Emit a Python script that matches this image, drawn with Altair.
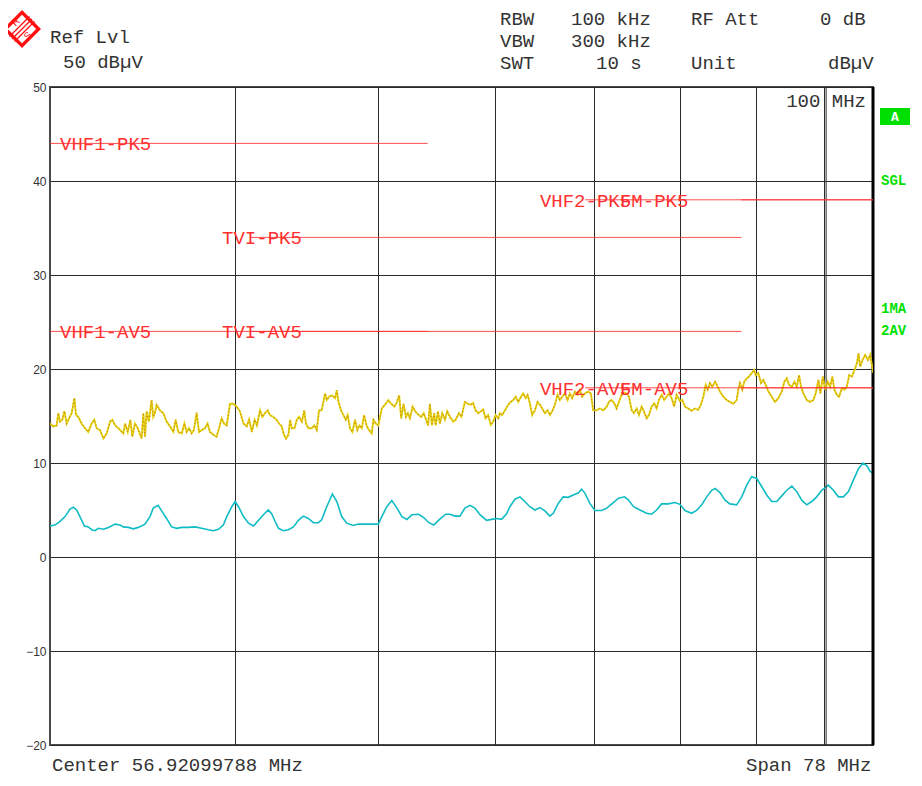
import altair as alt
import pandas as pd

# ---------------- data ----------------
grid_freqs = [40, 50, 60, 70, 80, 90, 100]
level_ticks = [-20, -10, 0, 10, 20, 30, 40, 50]

avg_freq = [30.00, 30.23, 30.47, 30.71, 30.95, 31.11, 31.27, 31.43, 31.65, 31.84, 32.01, 32.18, 32.34, 32.60,
            32.86, 33.20, 33.45, 33.63, 33.89, 34.16, 34.42, 34.78, 35.05, 35.23, 35.50, 35.69, 35.97, 36.25,
            36.54, 36.83, 37.20, 37.59, 37.99, 38.38, 38.68, 38.99, 39.29, 39.50, 39.81, 40.02, 40.23, 40.54,
            40.86, 41.18, 41.60, 41.88, 42.14, 42.36, 42.58, 42.81, 43.14, 43.48, 43.82, 44.16, 44.50, 44.85,
            45.20, 45.55, 45.79, 46.15, 46.56, 46.88, 47.24, 47.61, 48.10, 48.48, 48.98, 49.50, 50.01, 50.28,
            50.67, 51.07, 51.48, 51.88, 52.29, 52.70, 53.25, 53.67, 54.10, 54.52, 54.96, 55.54, 55.91, 56.34,
            56.78, 57.22, 57.67, 58.12, 58.58, 59.19, 59.65, 60.12, 60.59, 61.06, 61.37, 61.86, 62.34, 62.82,
            63.31, 63.81, 64.31, 64.81, 65.32, 65.66, 66.17, 66.69, 67.21, 67.73, 68.26, 68.62, 68.97, 69.51,
            70.05, 70.80, 71.36, 71.93, 72.68, 73.36, 73.82, 74.40, 75.14, 75.93, 76.52, 77.12, 77.72, 78.53,
            79.35, 79.97, 80.60, 81.43, 82.07, 82.72, 83.37, 84.03, 84.47, 85.11, 85.78, 86.44, 87.35, 88.04,
            88.73, 89.42, 90.12, 90.82, 91.53, 92.25, 92.98, 93.70, 94.44, 95.18, 95.92, 96.66, 97.42, 98.17,
            98.94, 99.72, 100.75, 101.54, 102.34, 103.14, 103.95, 104.77, 105.59, 106.32, 106.99, 107.52, 108.00]
avg_level = [3.3, 3.4, 3.8, 4.3, 5.1, 5.3, 5.0, 4.3, 3.3, 3.2, 2.9, 2.8, 3.05, 2.95,
             3.15, 3.5, 3.4, 3.2, 3.15, 3.0, 3.15, 3.5, 4.3, 5.2, 5.5, 4.9, 4.1, 3.2,
             3.05, 3.15, 3.15, 3.2, 3.05, 2.9, 2.8, 2.95, 3.4, 4.3, 5.35, 5.9, 5.35, 4.3,
             3.6, 3.3, 4.1, 4.6, 5.0, 4.6, 3.8, 3.05, 2.8, 2.9, 3.2, 3.9, 4.35, 4.1,
             3.65, 3.65, 3.95, 5.35, 6.7, 5.9, 4.3, 3.6, 3.35, 3.5, 3.5, 3.5, 3.5, 4.3,
             5.35, 6.0, 5.2, 4.3, 4.0, 4.5, 4.55, 4.2, 3.65, 3.4, 3.95, 4.55, 4.55, 4.35,
             4.35, 5.2, 5.5, 5.2, 4.5, 3.9, 4.0, 4.1, 4.0, 4.6, 5.35, 6.15, 6.4, 5.9,
             5.35, 5.0, 5.25, 4.9, 4.35, 4.65, 5.7, 6.4, 6.35, 6.6, 6.8, 7.2, 6.8, 5.7,
             4.95, 4.95, 5.2, 5.65, 6.25, 6.4, 6.05, 5.35, 5.0, 4.65, 4.55, 5.0, 5.65, 5.65,
             5.8, 5.6, 4.95, 4.65, 4.95, 5.55, 6.4, 7.1, 7.3, 6.85, 6.05, 5.65, 5.55, 6.4,
             7.65, 8.55, 8.35, 7.5, 6.6, 5.9, 5.9, 6.5, 7.1, 7.55, 6.95, 6.05, 5.55, 5.9,
             6.4, 7.1, 7.65, 7.1, 6.4, 6.4, 6.95, 8.2, 9.4, 10.0, 9.7, 9.1, 8.9]

pk_freq = [30.00, 30.16, 30.31, 30.39, 30.47, 30.58, 30.68, 30.79, 30.90, 31.03, 31.16, 31.24, 31.35, 31.51,
           31.68, 31.84, 32.01, 32.14, 32.26, 32.43, 32.60, 32.77, 32.94, 33.06, 33.20, 33.37, 33.63, 33.72,
           33.86, 34.00, 34.10, 34.24, 34.39, 34.60, 34.69, 34.78, 34.87, 34.99, 35.14, 35.23, 35.32, 35.41,
           35.60, 35.78, 35.97, 36.16, 36.35, 36.48, 36.63, 36.83, 36.98, 37.11, 37.25, 37.40, 37.53, 37.69,
           37.83, 37.99, 38.18, 38.34, 38.48, 38.68, 38.88, 39.03, 39.19, 39.33, 39.50, 39.70, 39.90, 40.11,
           40.32, 40.54, 40.75, 40.90, 41.07, 41.25, 41.40, 41.51, 41.60, 41.75, 41.92, 42.10, 42.25, 42.47,
           42.69, 42.85, 43.02, 43.18, 43.32, 43.48, 43.59, 43.71, 43.89, 44.05, 44.21, 44.40, 44.56, 44.68,
           44.85, 45.09, 45.27, 45.44, 45.60, 45.79, 46.03, 46.15, 46.32, 46.51, 46.75, 46.88, 47.00, 47.19,
           47.36, 47.54, 47.68, 47.85, 48.03, 48.23, 48.40, 48.56, 48.74, 48.91, 49.12, 49.30, 49.50, 49.63,
           49.81, 50.01, 50.28, 50.54, 50.80, 51.02, 51.28, 51.48, 51.66, 51.82, 52.01, 52.21, 52.37, 52.53,
           52.75, 52.97, 53.25, 53.47, 53.67, 53.87, 54.04, 54.19, 54.36, 54.55, 54.68, 54.87, 55.04, 55.24,
           55.47, 55.67, 55.91, 56.19, 56.40, 56.69, 56.92, 57.22, 57.51, 57.76, 57.96, 58.18, 58.42, 58.67,
           58.88, 59.09, 59.33, 59.58, 59.80, 60.02, 60.27, 60.43, 60.65, 60.90, 61.22, 61.44, 61.70, 61.93,
           62.18, 62.44, 62.66, 62.90, 63.09, 63.31, 63.54, 63.81, 64.07, 64.31, 64.54, 64.81, 65.08, 65.32,
           65.55, 65.83, 66.10, 66.34, 66.58, 66.86, 67.14, 67.38, 67.62, 67.91, 68.19, 68.44, 68.68, 68.97,
           69.33, 69.62, 69.87, 70.24, 70.60, 70.97, 71.36, 71.60, 71.90, 72.20, 72.46, 72.73, 73.03, 73.33,
           73.61, 73.87, 74.19, 74.45, 74.76, 75.03, 75.34, 75.61, 75.93, 76.20, 76.52, 76.83, 77.12, 77.39,
           77.72, 78.03, 78.32, 78.61, 78.94, 79.26, 79.55, 79.97, 80.26, 80.60, 81.01, 81.43, 81.86, 82.28,
           82.63, 82.93, 83.24, 83.50, 83.79, 84.09, 84.47, 84.82, 85.11, 85.55, 86.00, 86.44, 86.89, 87.35,
           87.57, 87.80, 88.12, 88.39, 88.73, 89.04, 89.42, 89.74, 89.98, 90.35, 90.73, 91.06, 91.40, 91.77,
           92.25, 92.73, 93.21, 93.70, 94.09, 94.44, 94.78, 95.18, 95.57, 95.92, 96.26, 96.56, 96.91, 97.42,
           97.92, 98.43, 98.79, 99.20, 99.51, 99.88, 100.24, 100.66, 101.02, 101.38, 101.70, 102.08, 102.45,
           102.88, 103.30, 103.69, 104.07, 104.51, 104.94, 105.33, 105.59, 105.86, 106.25, 106.70, 107.15,
           107.52, 107.91, 108.00]
pk_level = [14.2, 13.9, 14.0, 15.3, 14.4, 14.6, 15.5, 14.2, 14.75, 15.3, 16.9, 15.1, 14.9, 14.2,
            13.7, 13.3, 14.2, 14.6, 13.7, 13.5, 12.6, 13.15, 14.4, 14.6, 14.0, 13.7, 13.15, 14.2,
            13.3, 14.6, 12.8, 14.2, 13.7, 12.6, 15.3, 12.8, 15.5, 14.4, 16.7, 14.9, 15.3, 16.2,
            15.6, 15.3, 14.4, 13.9, 13.3, 14.6, 13.3, 13.15, 14.2, 13.3, 13.7, 13.15, 13.5, 15.35,
            13.3, 13.5, 13.7, 14.2, 13.3, 13.0, 12.8, 13.7, 14.75, 14.2, 14.0, 16.3, 16.3, 16.0,
            15.5, 14.2, 13.9, 14.65, 13.3, 14.6, 14.0, 14.9, 15.6, 14.9, 15.3, 15.6, 15.1, 14.9,
            14.6, 14.2, 13.9, 13.0, 12.6, 13.0, 14.6, 13.7, 13.7, 14.6, 14.9, 14.4, 15.6, 14.2,
            13.7, 13.7, 14.0, 13.5, 15.6, 15.6, 17.4, 16.7, 17.05, 17.2, 16.9, 17.75, 16.5, 15.6,
            15.1, 14.6, 15.1, 13.7, 13.3, 14.6, 13.5, 14.0, 13.7, 15.1, 13.9, 13.5, 13.15, 14.6,
            14.2, 14.0, 15.8, 16.2, 16.7, 16.3, 16.0, 16.5, 17.2, 14.75, 16.3, 14.9, 15.3, 14.75,
            16.0, 15.5, 15.1, 14.9, 15.3, 14.6, 14.0, 16.3, 14.0, 15.3, 14.0, 15.5, 14.2, 15.3,
            14.6, 15.5, 14.9, 14.4, 14.6, 15.3, 14.9, 16.5, 16.3, 16.2, 16.4, 15.6, 15.3, 15.5,
            15.7, 14.75, 15.1, 14.05, 14.4, 15.1, 14.75, 15.3, 15.1, 15.6, 16.2, 16.5, 16.7, 17.05,
            16.5, 17.05, 17.4, 16.9, 17.25, 16.35, 15.1, 15.6, 16.5, 16.2, 15.8, 15.3, 15.6, 15.1,
            15.5, 16.2, 17.25, 16.7, 17.05, 17.4, 16.7, 17.4, 16.9, 17.6, 17.25, 17.8, 17.05, 17.4,
            17.6, 17.4, 15.6, 15.6, 15.8, 15.6, 16.0, 16.5, 16.7, 16.35, 15.8, 16.5, 17.25, 17.5,
            17.4, 17.05, 15.6, 15.3, 15.8, 15.1, 16.0, 15.5, 14.75, 15.1, 16.0, 16.35, 15.8, 16.7,
            17.25, 16.7, 17.05, 17.4, 16.9, 16.0, 17.25, 16.6, 16.7, 16.0, 15.8, 15.55, 15.8, 15.65,
            16.2, 17.05, 18.3, 17.8, 18.5, 18.1, 18.65, 18.1, 17.6, 17.05, 16.7, 16.5, 16.3, 16.7,
            17.8, 18.5, 17.8, 18.65, 19.0, 19.2, 19.55, 19.9, 19.35, 19.55, 18.5, 18.85, 18.3, 17.6,
            17.05, 16.5, 16.9, 17.6, 18.65, 19.0, 18.3, 18.1, 18.65, 18.1, 19.35, 18.1, 17.4, 16.7,
            16.5, 16.7, 17.4, 18.85, 17.4, 19.2, 17.8, 18.65, 18.1, 19.2, 17.8, 17.25, 17.05,
            17.95, 17.8, 18.1, 19.35, 19.2, 19.9, 20.6, 21.65, 20.25, 20.95, 21.5, 20.95,
            21.5, 20.1, 19.6]

limit_names = ["VHF1-PK5", "VHF1-AV5", "TVI-PK5", "TVI-AV5", "VHF2-PK5", "VHF2-AV5", "FM-PK5", "FM-AV5"]
limit_start = [30, 30, 41, 41, 69, 69, 88, 88]
limit_end = [54, 54, 88, 88, 108, 108, 108, 108]
limit_level = [44, 24, 34, 24, 38, 18, 38, 18]
limit_label_freq = [30.47, 30.47, 39.21, 39.21, 64.31, 64.31, 72.84, 72.84]

marker_freq = [100.4]
span_edges = [30, 108]

# ---------------- chart ----------------
xs = alt.Scale(type="log", domain=span_edges, nice=False, zero=False)
ys = alt.Scale(domain=[-20, 50], nice=False, zero=False)
x_axis = alt.Axis(values=grid_freqs, labels=False, ticks=False, domain=False,
                  grid=True, gridColor="#2a2a2a", gridWidth=1, title=None)
y_axis = alt.Axis(values=level_ticks, ticks=False, domain=False, grid=True,
                  gridColor="#2a2a2a", gridWidth=1, title=None,
                  labelFont="Liberation Sans", labelFontSize=12,
                  labelColor="#333", labelPadding=4)


def X(field):
    return alt.X(field, scale=xs, axis=x_axis)


def Y(field):
    return alt.Y(field, scale=ys, axis=y_axis)


avg_df = pd.DataFrame({"f": avg_freq, "v": avg_level})
pk_df = pd.DataFrame({"f": pk_freq, "v": pk_level})
lim_df = pd.DataFrame({"name": limit_names, "f1": limit_start, "f2": limit_end,
                       "lvl": limit_level, "lf": limit_label_freq})

MONO = "Liberation Mono"
RED = "#ff3030"
GREEN = "#00e000"
FS = 19

avg_line = alt.Chart(avg_df).mark_line(color="#10bcc4", strokeWidth=1.6, clip=True).encode(
    x=X("f:Q"), y=Y("v:Q"))
pk_line = alt.Chart(pk_df).mark_line(color="#e2d40c", strokeWidth=1.9, clip=True).encode(
    x=X("f:Q"), y=Y("v:Q"))
pk_dots = alt.Chart(pk_df).mark_line(color="#d07a28", strokeWidth=1.1, strokeDash=[1, 2.5], clip=True).encode(
    x=X("f:Q"), y=Y("v:Q"))

marker = alt.Chart(pd.DataFrame({"f": marker_freq})).mark_rule(color="#2a2a2a", strokeWidth=1).encode(
    x=X("f:Q"))
right_edge = alt.Chart(pd.DataFrame({"f": [span_edges[1]]})).mark_rule(color="#000", strokeWidth=3).encode(
    x=X("f:Q"))

lim_rules = alt.Chart(lim_df).mark_rule(color=RED, strokeWidth=1, opacity=0.85).encode(
    x=X("f1:Q"), x2="f2:Q", y=Y("lvl:Q"))
lim_text = alt.Chart(lim_df).mark_text(font=MONO, fontSize=FS, color=RED, align="left",
                                       baseline="middle", dy=1).encode(
    x=X("lf:Q"), y=Y("lvl:Q"), text="name:N")


def txt(s, px, py, size=FS, color="#333", weight="normal", align="left", font=MONO, angle=0):
    return alt.Chart(pd.DataFrame({"t": [s]})).mark_text(
        font=font, fontSize=size, color=color, fontWeight=weight, align=align, baseline="middle",
        angle=angle).encode(x=alt.value(px), y=alt.value(py), text="t:N")


header = [
    txt("Ref Lvl", 0, -50),
    txt("50 dB\u00b5V", 13, -25),
    txt("RBW", 450, -68), txt("100 kHz", 521, -68), txt("RF Att", 641, -68), txt("0 dB", 770, -68),
    txt("VBW", 450, -46), txt("300 kHz", 521, -46),
    txt("SWT", 450, -24), txt("10 s", 546, -24), txt("Unit", 641, -24), txt("dB\u00b5V", 778, -24),
    txt("Center 56.92099788 MHz", 2, 678),
    txt("Span 78 MHz", 696, 678),
    txt("100 MHz", 816, 14, align="right"),
    txt("SGL", 831, 94, size=14, color=GREEN, weight="bold"),
    txt("1MA", 831, 222, size=14, color=GREEN, weight="bold"),
    txt("2AV", 831, 244, size=14, color=GREEN, weight="bold"),
]

a_box = alt.Chart(pd.DataFrame({"t": ["A"]})).mark_rect(color=GREEN).encode(
    x=alt.value(830), x2=alt.value(860), y=alt.value(21), y2=alt.value(38))
a_text = txt("A", 845, 30, size=13, color="#ffffff", weight="bold", align="center")

logo_df = pd.DataFrame({"t": ["R&S"]})
logo_outer = alt.Chart(logo_df).mark_point(shape="diamond", filled=True, color="#ff1010", size=1444, opacity=1).encode(
    x=alt.value(-28), y=alt.value(-58))
logo_inner = alt.Chart(logo_df).mark_point(shape="diamond", filled=True, color="#ffffff", size=800, opacity=1).encode(
    x=alt.value(-28), y=alt.value(-58))
logo_stripes = [
    alt.Chart(logo_df).mark_rule(color="#ff1010", strokeWidth=1.3).encode(
        x=alt.value(-38 + d), x2=alt.value(-18 + d), y=alt.value(-48 + d), y2=alt.value(-68 + d))
    for d in (-2.5, 0, 2.5)
]
logo_r = txt("R", -34, -65, size=10, color="#ff1010", font="Liberation Sans", align="center", angle=315)
logo_s = txt("S", -22, -51, size=10, color="#ff1010", font="Liberation Sans", align="center", angle=315)

chart = alt.layer(
    avg_line, marker, right_edge, pk_line, pk_dots, lim_rules, lim_text,
    *header, a_box, a_text, logo_outer, logo_inner, *logo_stripes, logo_r, logo_s,
).properties(
    width=823, height=658,
    padding={"left": 42, "top": 79, "right": 40, "bottom": 33},
    autosize="none",
    background="#ffffff",
).configure_view(stroke="#4a4a4a", strokeWidth=2)

chart.save("out.html", embed_options={"renderer": "svg", "actions": False})
